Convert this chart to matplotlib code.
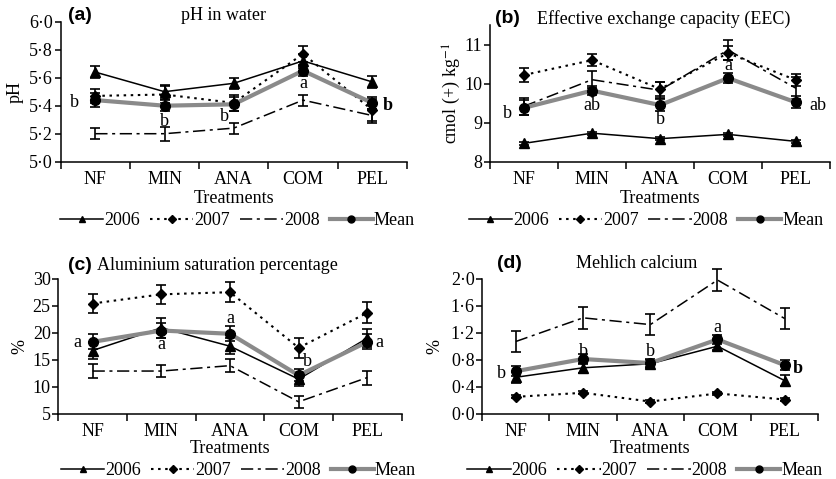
import numpy as np
import matplotlib
matplotlib.use("Agg")
import matplotlib.pyplot as plt
from matplotlib.lines import Line2D
from matplotlib.ticker import FuncFormatter

# === DATA ===
treatments = ["NF", "MIN", "ANA", "COM", "PEL"]
years = ["2006", "2007", "2008", "Mean"]

# (a) pH in water
ph_2006 = [5.64, 5.50, 5.56, 5.72, 5.57]
ph_2006_err = [0.045, 0.05, 0.04, 0.05, 0.04]
ph_2007 = [5.47, 5.48, 5.42, 5.77, 5.37]
ph_2007_err = [0.05, 0.06, 0.06, 0.06, 0.08]
ph_2008 = [5.20, 5.20, 5.24, 5.44, 5.33]
ph_2008_err = [0.04, 0.05, 0.04, 0.04, 0.05]
ph_mean = [5.44, 5.40, 5.41, 5.65, 5.42]
ph_mean_err = [0.05, 0.04, 0.05, 0.04, 0.04]
ph_letters = ["b", "b", "b", "a", "b"]

# (b) Effective exchange capacity
eec_2006 = [8.47, 8.73, 8.59, 8.70, 8.52]
eec_2006_err = [0.04, 0.04, 0.04, 0.04, 0.04]
eec_2007 = [10.22, 10.60, 9.86, 10.78, 10.09]
eec_2007_err = [0.17, 0.15, 0.18, 0.17, 0.15]
eec_2008 = [9.42, 10.10, 9.83, 10.86, 9.88]
eec_2008_err = [0.22, 0.22, 0.20, 0.25, 0.28]
eec_mean = [9.38, 9.82, 9.45, 10.14, 9.52]
eec_mean_err = [0.19, 0.12, 0.16, 0.13, 0.15]
eec_letters = ["b", "ab", "b", "a", "ab"]

# (c) Aluminium saturation percentage
al_2006 = [16.7, 20.9, 17.5, 11.4, 19.0]
al_2006_err = [1.5, 1.8, 1.5, 1.3, 1.6]
al_2007 = [25.4, 27.1, 27.5, 17.2, 23.7]
al_2007_err = [1.8, 1.8, 1.8, 1.8, 1.9]
al_2008 = [12.9, 12.9, 13.9, 7.2, 11.7]
al_2008_err = [1.3, 1.1, 1.2, 1.1, 1.3]
al_mean = [18.3, 20.4, 19.8, 12.1, 18.3]
al_mean_err = [1.4, 1.4, 1.4, 1.1, 1.4]
al_letters = ["a", "a", "a", "b", "a"]

# (d) Mehlich calcium
ca_2006 = [0.54, 0.68, 0.74, 1.00, 0.49]
ca_2006_err = [0.08, 0.07, 0.06, 0.05, 0.08]
ca_2007 = [0.25, 0.31, 0.18, 0.30, 0.21]
ca_2007_err = [0.02, 0.02, 0.02, 0.02, 0.02]
ca_2008 = [1.07, 1.42, 1.32, 1.98, 1.41]
ca_2008_err = [0.15, 0.16, 0.16, 0.16, 0.15]
ca_mean = [0.63, 0.81, 0.75, 1.10, 0.72]
ca_mean_err = [0.07, 0.07, 0.06, 0.07, 0.07]
ca_letters = ["b", "b", "b", "a", "b"]

# === STYLE ===
SERIF = "Liberation Serif"
SANS = "Liberation Sans"
FS = 13
GREY = "#8a8a8a"
plt.rcParams["font.family"] = SERIF
plt.rcParams["font.size"] = FS
plt.rcParams["mathtext.fontset"] = "stix"

fig = plt.figure(figsize=(8.36, 4.79), dpi=100)

paineis = [
    dict(rect=[0.0726, 0.6624, 0.4140, 0.2923], series=(ph_2006, ph_2007, ph_2008, ph_mean),
         errs=(ph_2006_err, ph_2007_err, ph_2008_err, ph_mean_err), letters=ph_letters,
         ylim=(5.0, 6.0), yticks=np.arange(5.0, 6.01, 0.2), dot=True, ylabel="pH", ylab_x=-0.132,
         tag="(a)", tag_x=0.021, tag_y=1.047, title="pH in water", title_x=0.469, title_ha="center",
         let_pos=[(-0.30, 5.42, False), (1.0, 5.29, False), (1.86, 5.32, False), (3.0, 5.56, False), (4.22, 5.40, True)],
         xlab_y=-0.26, leg=(0.511, -0.42)),
    dict(rect=[0.5861, 0.6624, 0.4067, 0.2854], series=(eec_2006, eec_2007, eec_2008, eec_mean),
         errs=(eec_2006_err, eec_2007_err, eec_2008_err, eec_mean_err), letters=eec_letters,
         ylim=(8, 11.5), yticks=[8, 9, 10, 11], dot=False, ylabel="cmol (+) kg$^{-1}$", ylab_x=-0.112,
         tag="(b)", tag_x=0.015, tag_y=1.051, title="Effective exchange capacity (EEC)", title_x=0.138,
         title_ha="left",
         let_pos=[(-0.24, 9.24, False), (1.0, 9.43, False), (2.0, 9.07, False), (3.0, 10.47, False), (4.32, 9.45, False)],
         xlab_y=-0.266, leg=(0.459, -0.43)),
    dict(rect=[0.0697, 0.1363, 0.4108, 0.2819], series=(al_2006, al_2007, al_2008, al_mean),
         errs=(al_2006_err, al_2007_err, al_2008_err, al_mean_err), letters=al_letters,
         ylim=(5, 30), yticks=[5, 10, 15, 20, 25, 30], dot=False, ylabel="%", ylab_x=-0.112,
         tag="(c)", tag_x=0.028, tag_y=1.10, title="Aluminium saturation percentage", title_x=0.113,
         title_ha="left",
         let_pos=[(-0.22, 18.1, False), (1.0, 17.8, False), (2.0, 22.6, False), (3.13, 14.6, False), (4.18, 18.1, False)],
         xlab_y=-0.256, leg=(0.525, -0.42)),
    dict(rect=[0.5769, 0.1363, 0.4019, 0.2819], series=(ca_2006, ca_2007, ca_2008, ca_mean),
         errs=(ca_2006_err, ca_2007_err, ca_2008_err, ca_mean_err), letters=ca_letters,
         ylim=(0, 2.0), yticks=np.arange(0, 2.01, 0.4), dot=True, ylabel="%", ylab_x=-0.14,
         tag="(d)", tag_x=0.044, tag_y=1.116, title="Mehlich calcium", title_x=0.46, title_ha="center",
         let_pos=[(-0.21, 0.59, False), (1.0, 0.92, False), (2.0, 0.92, False), (3.0, 1.28, False), (4.2, 0.67, True)],
         xlab_y=-0.256, leg=(0.484, -0.42)),
]

# line styles of each series: 2006, 2007, 2008, Mean (ms_leg = marker size in the legend)
estilos = [
    dict(color="black", ls="-", lw=1.1, marker="^", ms=6.5, ms_leg=5),
    dict(color="black", ls=(0, (1.2, 2.2)), lw=1.5, marker="D", ms=5, ms_leg=4),
    dict(color="black", ls=(0, (8, 3, 2, 3)), lw=1.1, marker="", ms=0, ms_leg=0),
    dict(color=GREY, ls="-", lw=3.0, marker="o", ms=7, ms_leg=5),
]

x = np.arange(len(treatments))

# === DRAWING ===
for p in paineis:
    ax = fig.add_axes(p["rect"])
    for serie, erro, est in zip(p["series"], p["errs"], estilos):
        ax.errorbar(x, serie, yerr=erro, fmt="none", ecolor="black", elinewidth=1.2,
                    capsize=3.5, capthick=1.2, clip_on=False, zorder=3)
        ax.plot(x, serie, color=est["color"], ls=est["ls"], lw=est["lw"], zorder=2 if est["color"] == "black" else 4)
        if est["marker"]:
            ax.plot(x, serie, ls="none", marker=est["marker"], ms=est["ms"], color="black", zorder=5,
                    clip_on=False)

    for letra, (lx, ly, negrito) in zip(p["letters"], p["let_pos"]):
        ax.text(lx, ly, letra, ha="center", va="center", fontsize=FS,
                fontweight="bold" if negrito else "normal", zorder=6)

    ax.set_xlim(-0.5, 4.5)
    ax.set_ylim(*p["ylim"])
    ax.set_yticks(p["yticks"])
    if p["dot"]:
        ax.yaxis.set_major_formatter(FuncFormatter(lambda v, pos: f"{v:.1f}".replace(".", "\u00b7")))
    ax.set_xticks(np.arange(-0.5, 5.0, 1.0))
    ax.set_xticklabels([])
    ax.set_xticks(x, minor=True)
    ax.set_xticklabels(treatments, minor=True)
    ax.tick_params(axis="x", which="major", direction="out", length=5, width=1.1)
    ax.tick_params(axis="x", which="minor", length=0, pad=6.5, labelsize=FS)
    ax.tick_params(axis="y", direction="out", length=4, width=1.1, pad=1.5, labelsize=FS)
    for lado in ["top", "right"]:
        ax.spines[lado].set_visible(False)
    for lado in ["left", "bottom"]:
        ax.spines[lado].set_linewidth(1.1)

    ax.set_xlabel("Treatments", fontsize=FS)
    ax.xaxis.set_label_coords(0.5, p["xlab_y"])
    ax.xaxis.label.set_va("center")
    ax.set_ylabel(p["ylabel"], fontsize=FS)
    ax.yaxis.set_label_coords(p["ylab_x"], 0.5)
    ax.yaxis.label.set_va("center")

    ax.text(p["tag_x"], p["tag_y"], p["tag"], transform=ax.transAxes, ha="left", va="center",
            family=SANS, fontweight="bold", fontsize=FS + 1)
    ax.text(p["title_x"], p["tag_y"] - 0.005, p["title"], transform=ax.transAxes, ha=p["title_ha"],
            va="center", fontsize=FS)

    handles = [Line2D([], [], color=e["color"], ls=e["ls"], lw=e["lw"], marker=e["marker"] or None,
                      ms=e["ms_leg"], mfc="black", mec="black") for e in estilos]
    ax.legend(handles, years, loc="center", bbox_to_anchor=p["leg"], ncol=4, frameon=False,
              handlelength=2.4, handletextpad=0.05, columnspacing=0.55, borderaxespad=0,
              borderpad=0, fontsize=FS)

fig.savefig("out.png", dpi=100)
